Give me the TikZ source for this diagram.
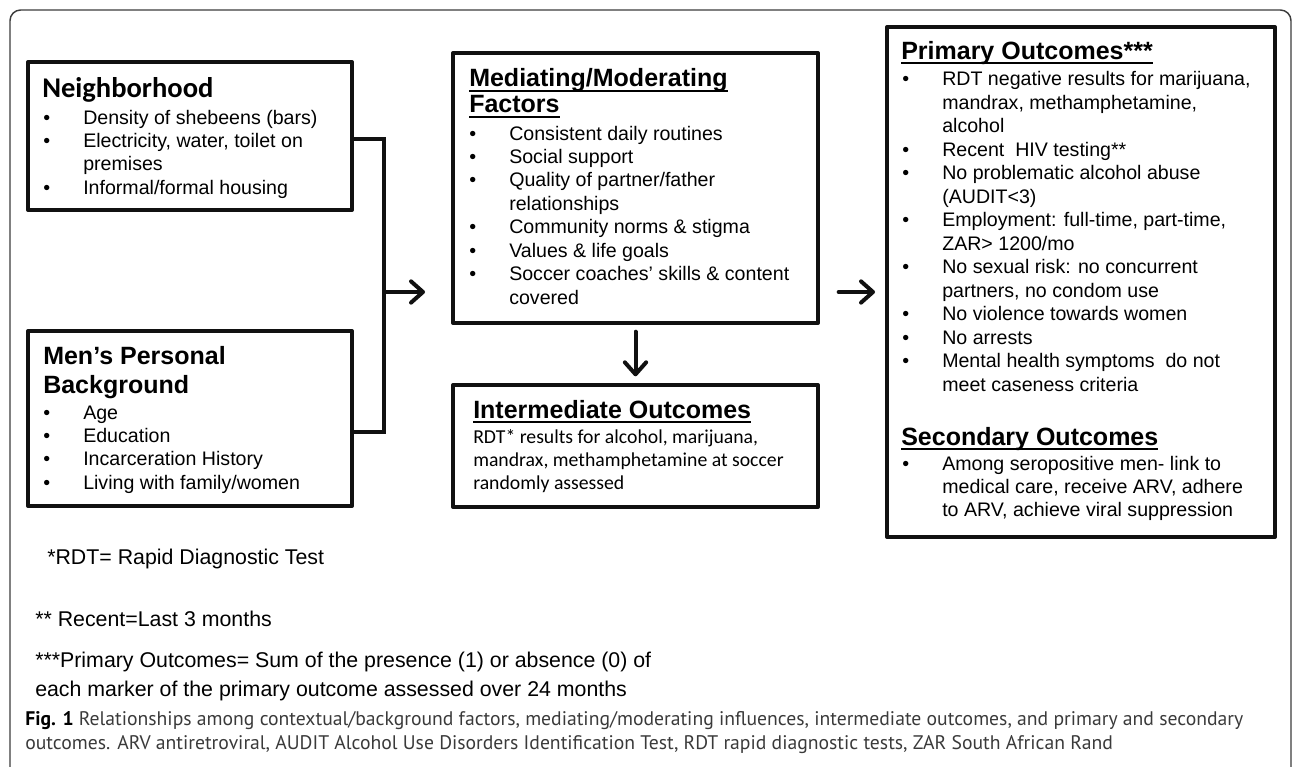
\documentclass[tikz,border=0pt]{standalone}
\usepackage{fontspec}
\usepackage{graphicx}
\setmainfont{Liberation Sans}
\newfontfamily\calfont{Carlito}
\newfontfamily\capfont{PT Sans}
\usetikzlibrary{arrows.meta,fit,calc}
\definecolor{ink}{HTML}{111111}
\definecolor{framec}{HTML}{3C3C3C}
\definecolor{capc}{HTML}{3A3A3A}
\newcommand\undl[1]{\setbox0\hbox{#1}\rlap{\rule[-3.6pt]{\wd0}{1.4pt}}\box0}
\newcommand\stk[1]{\begin{tabular}[t]{@{}l@{}}#1\end{tabular}}
\newcommand\blist[1]{\begin{tabular}[t]{@{}p{30pt}@{}l@{}}#1\end{tabular}}
\tikzset{
  box/.style={draw=ink, line width=3pt, inner sep=0pt, line join=round},
  conn/.style={draw=ink, line width=3pt, line join=miter},
  arr/.style={draw=ink, line width=3pt, line cap=round, -{Straight Barb[length=9pt,width=16pt,line cap=round,line join=round]}},
  frame/.style={draw=framec, line width=1.1pt, rounded corners=8pt},
  lst/.style={anchor=base west, inner sep=0pt, font=\fontsize{14.7pt}{17.6pt}\selectfont},
  ttl/.style={anchor=base west, inner sep=0pt, font=\fontsize{18.75pt}{20pt}\selectfont\bfseries},
  fn/.style={anchor=base west, inner sep=0pt, font=\fontsize{16pt}{21.75pt}\selectfont},
  captext/.style={anchor=base west, inner sep=0pt, font=\capfont\fontsize{14.75pt}{18.75pt}\selectfont, text=capc}
}
\begin{document}
\begin{tikzpicture}[x=0.75pt,y=-0.75pt]
\useasboundingbox (0,0) rectangle (1292,767);
% outer frame
\draw[frame] (10,780) -- (10,10) -- (1291,10) -- (1291,780);

% boxes
\node[box, fit={(28,62) (352,210)}] (nb) {};
\node[box, fit={(28,331) (352,506)}] (mb) {};
\node[box, fit={(453,53) (818,323)}] (med) {};
\node[box, fit={(453,385) (818,507)}] (int) {};
\node[box, fit={(887,27) (1275,537)}] (prim) {};

% Neighborhood
\node[anchor=base west, inner sep=0pt, font=\calfont\fontsize{21.4pt}{24pt}\selectfont\bfseries] (nbt) at (42,98) {Neighborhood};
\node[lst] (nbl) at (43,124) {\blist{\textbullet & Density of shebeens (bars)\\ \textbullet & Electricity, water, toilet on\\ & premises\\ \textbullet & Informal/formal housing}};

% Men's personal background
\node[ttl, font=\fontsize{18.75pt}{21.75pt}\selectfont\bfseries] (mbt) at (43,364) {\stk{Men’s Personal\\Background}};
\node[lst] (mbl) at (43,419) {\blist{\textbullet & Age\\ \textbullet & Education\\ \textbullet & Incarceration History\\ \textbullet & Living with family/women}};

% Mediating
\node[ttl, font=\fontsize{18.75pt}{19.5pt}\selectfont\bfseries] (medt) at (469,87) {\stk{\undl{Mediating/Moderating}\\\undl{Factors}}};
\node[lst] (medl) at (469,140) {\blist{\textbullet & Consistent daily routines\\ \textbullet & Social support\\ \textbullet & Quality of partner/father\\ & relationships\\ \textbullet & Community norms \& stigma\\ \textbullet & Values \& life goals\\ \textbullet & Soccer coaches’ skills \& content\\ & covered}};

% Intermediate
\node[ttl] (intt) at (473,418) {\undl{Intermediate Outcomes}};
\node[anchor=base west, inner sep=0pt, font=\calfont\fontsize{14.8pt}{17.6pt}\selectfont] (intl) at (473,443) {\stk{RDT* results for alcohol, marijuana,\\mandrax, methamphetamine at soccer\\randomly assessed}};

% Primary
\node[ttl] (primt) at (901,59.5) {\undl{Primary Outcomes***}};
\node[lst] (priml) at (902,86) {\blist{\textbullet & RDT negative results for marijuana,\\ & mandrax, methamphetamine,\\ & alcohol\\ \textbullet & Recent\ \ HIV testing**\\ \textbullet & No problematic alcohol abuse\\ & (AUDIT<3)\\ \textbullet & Employment: full-time, part-time,\\ & ZAR> 1200/mo\\ \textbullet & No sexual risk: no concurrent\\ & partners, no condom use\\ \textbullet & No violence towards women\\ \textbullet & No arrests\\ \textbullet & Mental health symptoms\ \ do not\\ & meet caseness criteria}};
\node[ttl] (sect) at (901,445) {\undl{Secondary Outcomes}};
\node[lst] (secl) at (902,470) {\blist{\textbullet & Among seropositive men- link to\\ & medical care, receive ARV, adhere\\ & to ARV, achieve viral suppression}};

% connectors
\coordinate (bus) at (384,292);
\draw[conn] ([yshift=-2.25pt]nb.east) -| (bus) |- ([yshift=-10pt]mb.east);
\draw[arr, shorten >=19.5pt] (bus) -- (bus -| med.west);
\draw[arr, shorten <=5pt, shorten >=5pt] (med.south) -- (int.north);
\draw[arr, shorten <=14pt, shorten >=7.5pt] (med.east |- bus) -- (prim.west |- bus);

% footnotes
\node[fn] (fn1) at (47,564) {*RDT= Rapid Diagnostic Test};
\node[fn] (fn2) at (35,626) {** Recent=Last 3 months};
\node[fn] (fn3) at (35,667) {\stk{***Primary Outcomes= Sum of the presence (1) or absence (0) of\\each marker of the primary outcome assessed over 24 months}};

% caption
\node[captext] (cap1) at (25,725) {{\color{black}\bfseries Fig. 1} Relationships among contextual/background factors, mediating/moderating influences, intermediate outcomes, and primary and secondary};
\node[captext] (cap2) at (25,749) {outcomes. ARV antiretroviral, AUDIT Alcohol Use Disorders Identification Test, RDT rapid diagnostic tests, ZAR South African Rand};
\end{tikzpicture}
\end{document}
